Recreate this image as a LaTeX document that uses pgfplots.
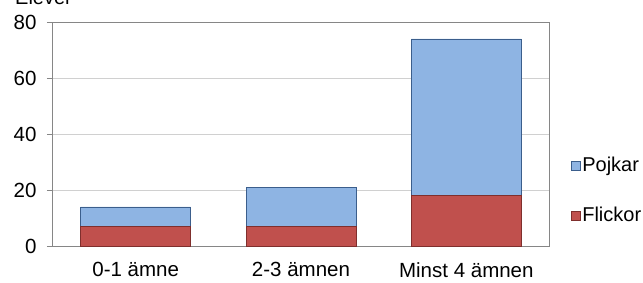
\documentclass[border=0pt]{standalone}
\usepackage{fontspec}
\setmainfont{Liberation Sans}
\usepackage{pgfplots}
\pgfplotsset{compat=1.18}
\definecolor{pojk}{HTML}{8EB4E3}
\definecolor{pojkedge}{HTML}{3B5E8C}
\definecolor{flick}{HTML}{C0504D}
\definecolor{flickedge}{HTML}{7F2F2D}
\definecolor{axgray}{HTML}{868686}
\definecolor{gridgray}{HTML}{D0D0D0}
\begin{document}
\begin{tikzpicture}[x=1pt,y=1pt]
\path[use as bounding box] (0,0) rectangle (643,282);
\begin{axis}[
  at={(53pt,36pt)}, anchor=south west,
  scale only axis, width=496pt, height=224pt,
  ybar stacked, bar width=0.665,
  xmin=-0.5, xmax=2.5, ymin=0, ymax=80,
  xtick={0,1,2}, xticklabels={0-1 ämne,2-3 ämnen,Minst 4 ämnen},
  ytick={0,20,40,60,80}, ytick pos=left,
  x tick style={draw=none},
  y tick style={draw=axgray, line width=0.8pt},
  tick align=outside, major tick length=6pt,
  ymajorgrids, grid style={gridgray, line width=0.8pt},
  axis line style={axgray, line width=1pt},
  tick label style={font=\fontsize{20.5}{24}\selectfont},
  /pgf/number format/assume math mode=true,
  yticklabel style={xshift=-7pt},
  xticklabel style={yshift=-7pt},
  reverse legend,
  legend cell align=left,
  legend image code/.code={\draw[#1] (0pt,-4.5pt) rectangle (9pt,4.5pt);},
  legend style={draw=none, fill=none, at={(axis description cs:1,0.248)}, anchor=west, xshift=22pt,
    font=\fontsize{20}{24}\selectfont, inner sep=0pt, row sep=31pt,
    nodes={inner sep=1.5pt}},
]
\addplot[fill=flick, draw=flickedge, line width=0.6pt] coordinates {(0,7) (1,7) (2,18)};
\addplot[fill=pojk, draw=pojkedge, line width=0.6pt] coordinates {(0,7) (1,14) (2,56)};
\legend{Flickor,Pojkar}
\end{axis}
\node[anchor=base west, inner sep=0pt, font=\fontsize{20}{24}\selectfont] at (15,277) {Elever};
\end{tikzpicture}
\end{document}
